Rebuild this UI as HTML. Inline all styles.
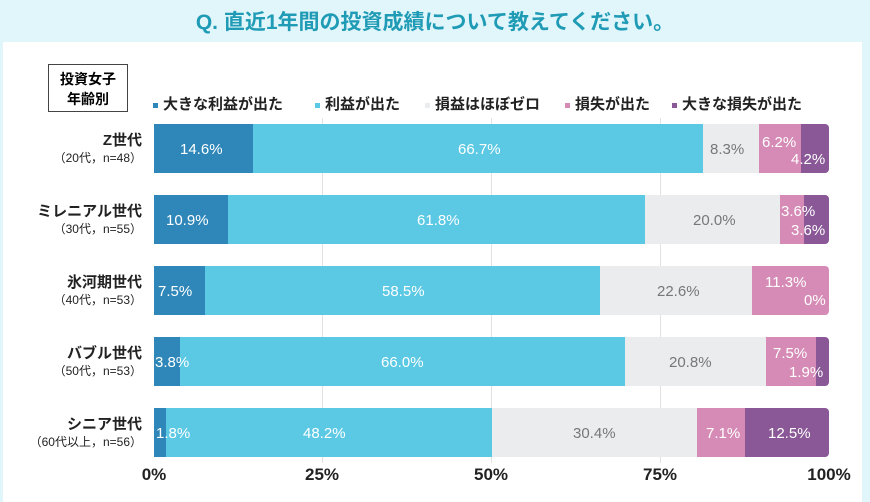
<!DOCTYPE html>
<html><head><meta charset="utf-8"><style>
body{margin:0;width:870px;height:502px;overflow:hidden;background:#e1f6fb;font-family:"Liberation Sans","Noto Sans CJK JP",sans-serif;position:relative}
.panel{position:absolute;left:3px;top:42px;width:859px;height:460px;background:#fff}
.t{position:absolute;left:0;width:870px;top:6px;text-align:center;font-size:21px;font-weight:bold;color:#1f9bb5}
.s{position:absolute;height:49px}
.l{position:absolute;font-size:15px;color:#fff;white-space:nowrap;line-height:17px}
.g{color:#777}
.grid{position:absolute;top:118px;width:1px;height:345px;background:#e2e2e2}
.ax{position:absolute;top:465px;font-size:17px;font-weight:bold;color:#222;transform:translateX(-50%)}
.cat{position:absolute;right:728px;text-align:right;color:#222;white-space:nowrap}
.cat b{font-size:15px;display:block;line-height:19px}
.cat span{font-size:12px;display:block;line-height:16px}
.lg{position:absolute;top:93px;font-size:15px;font-weight:bold;color:#222;white-space:nowrap}
.lg i{display:inline-block;width:5px;height:5px;margin-right:5px;vertical-align:middle}
</style></head><body>
<div class="t">Q. 直近1年間の投資成績について教えてください。</div>
<div class="panel"></div>
<div style="position:absolute;left:48px;top:64px;width:80px;height:48px;border:1.5px solid #444;font-size:14px;font-weight:bold;text-align:center;line-height:20px;padding-top:4px;box-sizing:border-box">投資女子<br>年齢別</div>
<div class="lg" style="left:153px"><i style="background:#2e87b8"></i>大きな利益が出た</div>
<div class="lg" style="left:315px"><i style="background:#5bc8e4"></i>利益が出た</div>
<div class="lg" style="left:425px"><i style="background:#ebecee"></i>損益はほぼゼロ</div>
<div class="lg" style="left:565px"><i style="background:#d58bb5"></i>損失が出た</div>
<div class="lg" style="left:672px"><i style="background:#8a5896"></i>大きな損失が出た</div>
<div class="grid" style="left:322px"></div><div class="grid" style="left:491px"></div><div class="grid" style="left:660px"></div>

<!-- Z -->
<div class="s" style="top:124px;left:154px;width:99px;background:#2e87b8"></div>
<div class="s" style="top:124px;left:253px;width:450px;background:#5bc8e4"></div>
<div class="s" style="top:124px;left:703px;width:56px;background:#ebecee"></div>
<div class="s" style="top:124px;left:759px;width:42px;background:#d58bb5"></div>
<div class="s" style="top:124px;left:801px;width:28px;background:#8a5896;border-radius:0 4px 4px 0"></div>
<div class="l" style="left:180px;top:141px">14.6%</div>
<div class="l" style="left:458px;top:141px">66.7%</div>
<div class="l g" style="left:710px;top:141px">8.3%</div>
<div class="l" style="left:762px;top:134px">6.2%</div>
<div class="l" style="left:791px;top:151px">4.2%</div>
<!-- M -->
<div class="s" style="top:195px;left:154px;width:74px;background:#2e87b8"></div>
<div class="s" style="top:195px;left:228px;width:417px;background:#5bc8e4"></div>
<div class="s" style="top:195px;left:645px;width:135px;background:#ebecee"></div>
<div class="s" style="top:195px;left:780px;width:24px;background:#d58bb5"></div>
<div class="s" style="top:195px;left:804px;width:25px;background:#8a5896;border-radius:0 4px 4px 0"></div>
<div class="l" style="left:166px;top:212px">10.9%</div>
<div class="l" style="left:417px;top:212px">61.8%</div>
<div class="l g" style="left:693px;top:212px">20.0%</div>
<div class="l" style="left:781px;top:203px">3.6%</div>
<div class="l" style="left:791px;top:222px">3.6%</div>
<!-- 氷河期 -->
<div class="s" style="top:266px;left:154px;width:51px;background:#2e87b8"></div>
<div class="s" style="top:266px;left:205px;width:395px;background:#5bc8e4"></div>
<div class="s" style="top:266px;left:600px;width:152px;background:#ebecee"></div>
<div class="s" style="top:266px;left:752px;width:77px;background:#d58bb5;border-radius:0 4px 4px 0"></div>
<div class="l" style="left:158px;top:283px">7.5%</div>
<div class="l" style="left:382px;top:283px">58.5%</div>
<div class="l g" style="left:657px;top:283px">22.6%</div>
<div class="l" style="left:765px;top:274px">11.3%</div>
<div class="l" style="left:804px;top:292px">0%</div>
<!-- バブル -->
<div class="s" style="top:337px;left:154px;width:26px;background:#2e87b8"></div>
<div class="s" style="top:337px;left:180px;width:445px;background:#5bc8e4"></div>
<div class="s" style="top:337px;left:625px;width:141px;background:#ebecee"></div>
<div class="s" style="top:337px;left:766px;width:50px;background:#d58bb5"></div>
<div class="s" style="top:337px;left:816px;width:13px;background:#8a5896;border-radius:0 4px 4px 0"></div>
<div class="l" style="left:155px;top:354px">3.8%</div>
<div class="l" style="left:381px;top:354px">66.0%</div>
<div class="l g" style="left:669px;top:354px">20.8%</div>
<div class="l" style="left:773px;top:345px">7.5%</div>
<div class="l" style="left:789px;top:364px">1.9%</div>
<!-- シニア -->
<div class="s" style="top:408px;left:154px;width:12px;background:#2e87b8"></div>
<div class="s" style="top:408px;left:166px;width:326px;background:#5bc8e4"></div>
<div class="s" style="top:408px;left:492px;width:205px;background:#ebecee"></div>
<div class="s" style="top:408px;left:697px;width:48px;background:#d58bb5"></div>
<div class="s" style="top:408px;left:745px;width:84px;background:#8a5896;border-radius:0 4px 4px 0"></div>
<div class="l" style="left:156px;top:425px">1.8%</div>
<div class="l" style="left:303px;top:425px">48.2%</div>
<div class="l g" style="left:573px;top:425px">30.4%</div>
<div class="l" style="left:706px;top:425px">7.1%</div>
<div class="l" style="left:768px;top:425px">12.5%</div>

<div class="cat" style="top:131px"><b>Z世代</b><span>（20代，n=48）</span></div>
<div class="cat" style="top:202px"><b>ミレニアル世代</b><span>（30代，n=55）</span></div>
<div class="cat" style="top:273px"><b>氷河期世代</b><span>（40代，n=53）</span></div>
<div class="cat" style="top:344px"><b>バブル世代</b><span>（50代，n=53）</span></div>
<div class="cat" style="top:415px"><b>シニア世代</b><span>（60代以上，n=56）</span></div>

<div class="ax" style="left:154px">0%</div>
<div class="ax" style="left:322px">25%</div>
<div class="ax" style="left:491px">50%</div>
<div class="ax" style="left:660px">75%</div>
<div class="ax" style="left:829px">100%</div>
</body></html>
